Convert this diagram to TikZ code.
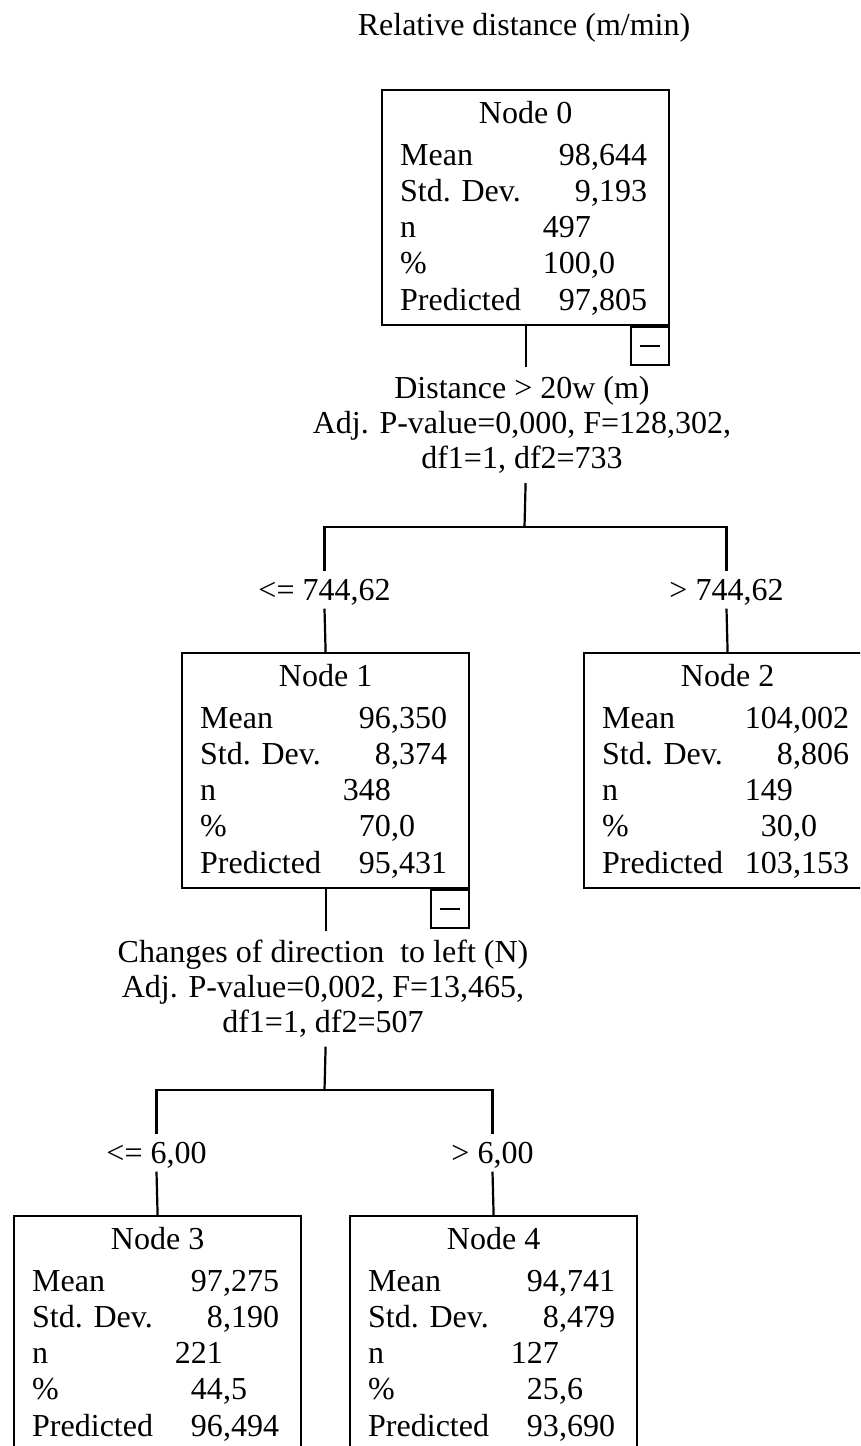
\documentclass[tikz,border=0pt]{standalone}
\usepackage{fontspec}
\setmainfont{Liberation Serif}
\usetikzlibrary{calc}
\tikzset{
  txt/.style={inner sep=0pt, font=\fontsize{32}{35}\selectfont},
  statbox/.style={draw, line width=2.2pt, minimum width=287pt, minimum height=235pt, inner sep=0pt, anchor=north west},
  minusbox/.style={draw, line width=2.2pt, minimum width=38pt, minimum height=38pt, inner sep=0pt, anchor=north east},
  split/.style={txt, align=center, minimum height=116pt},
  cond/.style={txt, text height=21pt, text depth=0pt, inner ysep=8pt},
  conn/.style={line width=2.2pt},
  minusline/.style={line width=2pt},
}
% #1 box, #2 row, #3 label, #4 integer part, #5 decimal part
\newcommand\srow[5]{%
  \node[txt, anchor=base west] (#1l#2) at ($(#1.north west)+(19,{76+36.25*(#2-1)})$) {#3};
  \node[txt, anchor=base east] (#1i#2) at ($(#1.north west)+(210,{76+36.25*(#2-1)})$) {#4};
  \node[txt, anchor=base west] (#1d#2) at ($(#1.north west)+(210,{76+36.25*(#2-1)})$) {#5};
}
\newcommand\srowint[4]{%
  \node[txt, anchor=base west] (#1l#2) at ($(#1.north west)+(19,{76+36.25*(#2-1)})$) {#3};
  \node[txt, anchor=base east] (#1i#2) at ($(#1.north west)+(210,{76+36.25*(#2-1)})$) {#4};
}
\newcommand\boxtitle[2]{%
  \node[txt, anchor=base] (#1t) at ($(#1.north)+(0,34)$) {#2};
}
\begin{document}
\begin{tikzpicture}[x=1pt, y=-1pt]
\useasboundingbox (0,0) rectangle (860,1446);
\clip (0,0) rectangle (860,1446);

\node[txt] (title) at (524,28) {Relative distance (m/min)};

% boxes
\node[statbox] (n0) at (381,89) {};
\node[statbox] (n1) at (181,652) {};
\node[statbox] (n2) at (583,652) {};
\node[statbox] (n3) at (13,1215) {};
\node[statbox] (n4) at (349,1215) {};

\node[minusbox] (m0) at (n0.south east) {};
\node[minusbox] (m1) at (n1.south east) {};
\draw[minusline] ([xshift=-10pt]m0.center) -- ([xshift=10pt]m0.center);
\draw[minusline] ([xshift=-10pt]m1.center) -- ([xshift=10pt]m1.center);

% box contents
\boxtitle{n0}{Node 0}
\srow{n0}{1}{Mean}{98}{,644}
\srow{n0}{2}{Std. Dev.}{9}{,193}
\srowint{n0}{3}{n}{497}
\srow{n0}{4}{\%}{100}{,0}
\srow{n0}{5}{Predicted}{97}{,805}

\boxtitle{n1}{Node 1}
\srow{n1}{1}{Mean}{96}{,350}
\srow{n1}{2}{Std. Dev.}{8}{,374}
\srowint{n1}{3}{n}{348}
\srow{n1}{4}{\%}{70}{,0}
\srow{n1}{5}{Predicted}{95}{,431}

\boxtitle{n2}{Node 2}
\srow{n2}{1}{Mean}{104}{,002}
\srow{n2}{2}{Std. Dev.}{8}{,806}
\srowint{n2}{3}{n}{149}
\srow{n2}{4}{\%}{30}{,0}
\srow{n2}{5}{Predicted}{103}{,153}

\boxtitle{n3}{Node 3}
\srow{n3}{1}{Mean}{97}{,275}
\srow{n3}{2}{Std. Dev.}{8}{,190}
\srowint{n3}{3}{n}{221}
\srow{n3}{4}{\%}{44}{,5}
\srow{n3}{5}{Predicted}{96}{,494}

\boxtitle{n4}{Node 4}
\srow{n4}{1}{Mean}{94}{,741}
\srow{n4}{2}{Std. Dev.}{8}{,479}
\srowint{n4}{3}{n}{127}
\srow{n4}{4}{\%}{25}{,6}
\srow{n4}{5}{Predicted}{93}{,690}

% split labels
\node[split] (s0) at (522,425) {Distance > 20w (m)\\Adj. P-value=0,000, F=128,302,\\df1=1, df2=733};
\node[split, minimum height=115pt] (s1) at (323,989) {Changes of direction\ \ to left (N)\\Adj. P-value=0,002, F=13,465,\\df1=1, df2=507};

% condition labels
\node[cond] (c1) at (324.5,590) {<= 744,62};
\node[cond] (c2) at (726.5,590) {> 744,62};
\node[cond] (c3) at (156.5,1153) {<= 6,00};
\node[cond] (c4) at (492.5,1153) {> 6,00};

\coordinate (j0) at (524.5,527);
\coordinate (j1) at (324.5,1090);

% connectors
\draw[conn] (n0.south) -- (n0.south |- s0.north);
\draw[conn] (n0.south |- s0.south) -- (j0);
\draw[conn] (c1.north) -- (c1.north |- j0) -- (c2.north |- j0) -- (c2.north);
\draw[conn] (c1.south) -- (n1.north);
\draw[conn] (c2.south) -- (n2.north);

\draw[conn] (n1.south) -- (n1.south |- s1.north);
\draw[conn] (n1.south |- s1.south) -- (j1);
\draw[conn] (c3.north) -- (c3.north |- j1) -- (c4.north |- j1) -- (c4.north);
\draw[conn] (c3.south) -- (n3.north);
\draw[conn] (c4.south) -- (n4.north);
\end{tikzpicture}
\end{document}
